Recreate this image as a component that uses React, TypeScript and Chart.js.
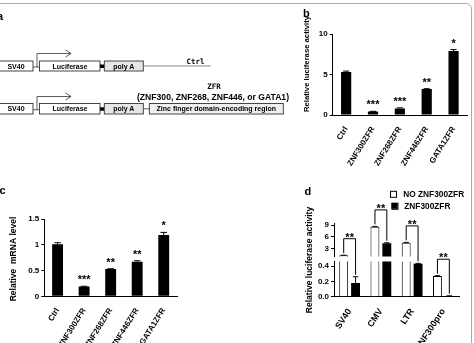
import React, { useEffect, useRef } from "react";
import { Chart, registerables } from "chart.js";

Chart.register(...registerables);

const FONT = "'Liberation Sans', Arial, Helvetica, sans-serif";

// ---------- panel b ----------
const B_CATEGORIES = ["Ctrl", "ZNF300ZFR", "ZNF268ZFR", "ZNF446ZFR", "GATA1ZFR"];
const B_VALUES = [5.3, 0.42, 0.8, 3.2, 7.9];
const B_ERRORS = [0.12, 0.03, 0.08, 0.05, 0.18];
const B_SIGNIF = ["", "***", "***", "**", "*"];
const B_TICKS = [0, 5, 10];

// ---------- panel c ----------
const C_CATEGORIES = ["Ctrl", "ZNF300ZFR", "ZNF268ZFR", "ZNF446ZFR", "GATA1ZFR"];
const C_VALUES = [1.01, 0.19, 0.53, 0.67, 1.19];
const C_ERRORS = [0.03, 0.005, 0.005, 0.02, 0.05];
const C_SIGNIF = ["", "***", "**", "**", "*"];
const C_TICKS = [0, 0.5, 1, 1.5];

// ---------- panel d ----------
const D_CATEGORIES = ["SV40", "CMV", "LTR", "ZNF300pro"];
const D_SERIES = ["NO ZNF300ZFR", "ZNF300ZFR"];
const D_NO_ZFR = [1.3, 8.6, 4.5, 0.27];
const D_NO_ZFR_ERR = [0.02, 0.1, 0.1, 0.004];
const D_ZFR = [0.18, 4.4, 0.43, 0.01];
const D_ZFR_ERR = [0.08, 0.1, 0.005, 0.002];
const D_SIGNIF = ["**", "**", "**", "**"];
const D_UPPER_TICKS = [3, 6, 9];
const D_LOWER_TICKS = [0, 0.2, 0.4];
const D_UPPER_RANGE = [1, 9.5];
const D_LOWER_RANGE = [0, 0.46];

// ---------- plugins ----------
const errorBarPlugin = {
  id: "errorBars",
  afterDatasetsDraw(chart: any) {
    const ctx = chart.ctx;
    chart.data.datasets.forEach((ds: any, i: number) => {
      if (!ds.errors) return;
      const meta = chart.getDatasetMeta(i);
      const ys = chart.scales[meta.yAxisID];
      meta.data.forEach((bar: any, j: number) => {
        const v = ds.data[j];
        const e = ds.errors[j];
        if (!e || v < ys.min || v > ys.max) return;
        const y0 = ys.getPixelForValue(v);
        const y1 = ys.getPixelForValue(v + e);
        const half = bar.width * 0.3;
        ctx.save();
        ctx.strokeStyle = "#000";
        ctx.lineWidth = 1;
        ctx.beginPath();
        ctx.moveTo(bar.x, y0);
        ctx.lineTo(bar.x, y1);
        ctx.moveTo(bar.x - half, y1);
        ctx.lineTo(bar.x + half, y1);
        ctx.stroke();
        ctx.restore();
      });
    });
  },
};

const signifPlugin = {
  id: "signif",
  afterDatasetsDraw(chart: any) {
    const ctx = chart.ctx;
    chart.data.datasets.forEach((ds: any, i: number) => {
      if (!ds.signif) return;
      const meta = chart.getDatasetMeta(i);
      const ys = chart.scales[meta.yAxisID];
      meta.data.forEach((bar: any, j: number) => {
        const s = ds.signif[j];
        if (!s) return;
        const top = ys.getPixelForValue(ds.data[j] + (ds.errors ? ds.errors[j] : 0));
        ctx.save();
        ctx.fillStyle = "#000";
        ctx.font = `bold 11px ${FONT}`;
        ctx.textAlign = "center";
        ctx.textBaseline = "alphabetic";
        ctx.fillText(s, bar.x, top - 3);
        ctx.restore();
      });
    });
  },
};

const yTitlePlugin = {
  id: "yTitle",
  afterDraw(chart: any, _args: any, opts: any) {
    if (!opts || !opts.text) return;
    const ctx = chart.ctx;
    ctx.save();
    ctx.translate(opts.x, opts.y);
    ctx.rotate(-Math.PI / 2);
    ctx.fillStyle = "#000";
    ctx.font = `bold ${opts.size}px ${FONT}`;
    ctx.textAlign = "center";
    ctx.textBaseline = "middle";
    ctx.fillText(opts.text, 0, 0);
    ctx.restore();
  },
};

const bracketPlugin = {
  id: "brackets",
  afterDraw(chart: any) {
    const ctx = chart.ctx;
    const up = chart.scales.yUp;
    const low = chart.scales.yLow;
    const px = (v: number) => (v > low.max ? up.getPixelForValue(v) : low.getPixelForValue(v));
    const mNo = chart.getDatasetMeta(2);
    const mZ = chart.getDatasetMeta(3);
    D_CATEGORIES.forEach((_c, j) => {
      const x1 = mNo.data[j].x;
      const x2 = mZ.data[j].x;
      const t1 = px(D_NO_ZFR[j] + D_NO_ZFR_ERR[j]);
      const t2 = px(D_ZFR[j] + D_ZFR_ERR[j]);
      const yH = Math.min(t1, t2) - 16.5;
      ctx.save();
      ctx.strokeStyle = "#000";
      ctx.lineWidth = 1;
      ctx.beginPath();
      ctx.moveTo(x1, t1 - 2);
      ctx.lineTo(x1, yH);
      ctx.lineTo(x2, yH);
      ctx.lineTo(x2, t2 - 2);
      ctx.stroke();
      ctx.fillStyle = "#000";
      ctx.font = `bold 11px ${FONT}`;
      ctx.textAlign = "center";
      ctx.textBaseline = "alphabetic";
      ctx.fillText(D_SIGNIF[j], (x1 + x2) / 2, yH + 2.3);
      ctx.restore();
    });
  },
};

const legendPlugin = {
  id: "dLegend",
  afterDraw(chart: any) {
    const ctx = chart.ctx;
    const a = chart.chartArea;
    const x0 = a.left + 56;
    const y0 = a.top - 32.5;
    [0, 1].forEach((i) => {
      const ds = chart.data.datasets[i];
      const bx = x0 + i * 1.5;
      const by = y0 + i * 12;
      ctx.save();
      ctx.fillStyle = ds.backgroundColor;
      ctx.fillRect(bx, by, 6, 6);
      ctx.strokeStyle = "#000";
      ctx.lineWidth = 1;
      ctx.strokeRect(bx + 0.5, by + 0.5, 6, 6);
      ctx.fillStyle = "#000";
      ctx.font = `bold 8.3px ${FONT}`;
      ctx.textAlign = "left";
      ctx.textBaseline = "middle";
      ctx.fillText(ds.label, x0 + 13.3 + i, by + 3.5);
      ctx.restore();
    });
  },
};

// ---------- helpers ----------
const fixedTicks = (values: number[]) => (scale: any) => {
  scale.ticks = values.map((v) => ({ value: v }));
};

function yAxis(width: number, ticks: number[], min: number, max: number, fmt?: (v: number) => string, extra: any = {}) {
  return {
    type: "linear",
    position: "left",
    min,
    max,
    afterBuildTicks: fixedTicks(ticks),
    afterFit: (s: any) => {
      s.width = width;
    },
    grid: { drawOnChartArea: false, drawTicks: true, tickLength: 3, color: "#000", lineWidth: 1 },
    border: { color: "#000", width: 1 },
    ticks: {
      padding: 2,
      color: "#000",
      font: { family: FONT, weight: "bold", size: 8 },
      callback: (v: any) => (fmt ? fmt(Number(v)) : String(v)),
    },
    ...extra,
  };
}

function xAxis(height: number, rotation: number, size: number) {
  return {
    type: "category",
    offset: true,
    afterFit: (s: any) => {
      s.height = height;
    },
    grid: { display: false },
    border: { color: "#000", width: 1 },
    ticks: {
      autoSkip: false,
      minRotation: rotation,
      maxRotation: rotation,
      padding: 2,
      color: "#000",
      font: { family: FONT, weight: "bold", size },
    },
  };
}

function simpleBarConfig(
  cats: string[],
  values: number[],
  errors: number[],
  signif: string[],
  ticks: number[],
  yWidth: number,
  xHeight: number,
  padding: any,
  barPct: number,
  title: any,
  fmt?: (v: number) => string
) {
  return {
    type: "bar",
    data: {
      labels: cats,
      datasets: [
        {
          data: values,
          errors,
          signif,
          backgroundColor: "#000",
          borderWidth: 0,
          categoryPercentage: 1,
          barPercentage: barPct,
        },
      ],
    },
    options: {
      responsive: false,
      animation: false,
      devicePixelRatio: 1,
      layout: { padding },
      plugins: { legend: { display: false }, tooltip: { enabled: false }, yTitle: title },
      scales: {
        x: xAxis(xHeight, 58, 8),
        y: yAxis(yWidth, ticks, ticks[0], ticks[ticks.length - 1], fmt),
      },
    },
    plugins: [errorBarPlugin, signifPlugin, yTitlePlugin],
  };
}

function dConfig() {
  const common = { categoryPercentage: 0.76, barPercentage: 0.75, clip: 0 };
  const white = { backgroundColor: "#fff", borderColor: "#000", borderWidth: 1 };
  const black = { backgroundColor: "#000", borderColor: "#000", borderWidth: 0 };
  const upH = (D_UPPER_RANGE[1] - D_UPPER_RANGE[0]) * 3.9;
  const lowH = (D_LOWER_RANGE[1] - D_LOWER_RANGE[0]) * 76.7;
  return {
    type: "bar",
    data: {
      labels: D_CATEGORIES,
      datasets: [
        { label: D_SERIES[0], data: D_NO_ZFR, errors: D_NO_ZFR_ERR, yAxisID: "yUp", stack: "no", ...white, ...common },
        { label: D_SERIES[1], data: D_ZFR, errors: D_ZFR_ERR, yAxisID: "yUp", stack: "zfr", ...black, ...common },
        { label: D_SERIES[0], data: D_NO_ZFR, errors: D_NO_ZFR_ERR, yAxisID: "yLow", stack: "no", ...white, ...common },
        { label: D_SERIES[1], data: D_ZFR, errors: D_ZFR_ERR, yAxisID: "yLow", stack: "zfr", ...black, ...common },
      ],
    },
    options: {
      responsive: false,
      animation: false,
      devicePixelRatio: 1,
      layout: { padding: { top: 43.3, right: 12, left: 0, bottom: 0 } },
      plugins: {
        legend: { display: false },
        tooltip: { enabled: false },
        yTitle: { text: "Relative luciferase activity", x: 70, y: 80, size: 8.5 },
      },
      scales: {
        x: xAxis(46.3, 57, 9),
        yLow: yAxis(94, D_LOWER_TICKS, D_LOWER_RANGE[0], D_LOWER_RANGE[1], (v) => v.toFixed(1), {
          stack: "d",
          stackWeight: lowH,
          stacked: false,
        }),
        yGap: {
          type: "linear",
          position: "left",
          stack: "d",
          stackWeight: 5,
          min: 0,
          max: 1,
          afterFit: (s: any) => {
            s.width = 94;
          },
          grid: { display: false },
          border: { display: false },
          ticks: { display: false },
        },
        yUp: yAxis(94, D_UPPER_TICKS, D_UPPER_RANGE[0], D_UPPER_RANGE[1], undefined, {
          stack: "d",
          stackWeight: upH,
          stacked: false,
        }),
      },
    },
    plugins: [errorBarPlugin, bracketPlugin, legendPlugin, yTitlePlugin],
  };
}

function ChartCanvas(props: { left: number; top: number; width: number; height: number; make: () => any }) {
  const ref = useRef<HTMLCanvasElement>(null);
  useEffect(() => {
    const chart = new Chart(ref.current as HTMLCanvasElement, props.make());
    return () => chart.destroy();
  }, []);
  return (
    <canvas
      ref={ref}
      width={props.width}
      height={props.height}
      style={{ position: "absolute", left: props.left, top: props.top, width: props.width, height: props.height }}
    />
  );
}

function Construct(props: { y: number; h: number; arrowTop: number; zfr: boolean }) {
  const { y, h, arrowTop, zfr } = props;
  const mid = y + h / 2;
  const stroke = "#333";
  const txt = { fontFamily: FONT, fontWeight: 700, fontSize: 7, textAnchor: "middle" as const, dominantBaseline: "central" as const };
  return (
    <g>
      <rect x={-2} y={y} width={35} height={h} fill="#fff" stroke={stroke} strokeWidth={0.9} />
      <text x={16} y={mid} {...txt}>SV40</text>
      <line x1={33} y1={mid + 1} x2={39.5} y2={mid + 1} stroke={stroke} strokeWidth={0.8} />
      <polyline points={`37,${mid + 1} 37,${arrowTop} 71,${arrowTop}`} fill="none" stroke={stroke} strokeWidth={0.8} />
      <polyline points={`65.5,${arrowTop - 3.5} 71,${arrowTop} 65.5,${arrowTop + 3.5}`} fill="none" stroke={stroke} strokeWidth={0.8} />
      <rect x={39.5} y={y} width={60.5} height={h} fill="#fff" stroke={stroke} strokeWidth={0.9} />
      <text x={70} y={mid} {...txt}>Luciferase</text>
      <rect x={100} y={mid - 1.5} width={4.3} height={3.5} fill="#000" />
      <rect x={104.3} y={y} width={39} height={h} fill="#e6e6e6" stroke={stroke} strokeWidth={0.9} />
      <text x={123.8} y={mid} {...txt}>poly A</text>
      {zfr ? (
        <g>
          <line x1={143.3} y1={mid} x2={149.3} y2={mid} stroke={stroke} strokeWidth={0.8} />
          <rect x={149.3} y={y} width={134} height={h} fill="#efefef" stroke={stroke} strokeWidth={0.9} />
          <text x={216.3} y={mid} {...txt}>Zinc finger domain-encoding region</text>
        </g>
      ) : (
        <line x1={143.3} y1={mid} x2={210.7} y2={mid} stroke="#777" strokeWidth={0.9} />
      )}
    </g>
  );
}

function Overlay() {
  const letter = { fontFamily: FONT, fontWeight: 700, fontSize: 11 };
  return (
    <svg width={474} height={343} style={{ position: "absolute", left: 0, top: 0, pointerEvents: "none" }}>
      <text x={-3} y={20} {...letter}>a</text>
      <text x={303} y={17} {...letter}>b</text>
      <text x={-0.5} y={194} {...letter}>c</text>
      <text x={304.5} y={194.5} {...letter}>d</text>
      <Construct y={61} h={10} arrowTop={53.5} zfr={false} />
      <text x={186.5} y={64} fontFamily="'DejaVu Sans Mono', monospace" fontWeight={700} fontSize={7.5}>
        Ctrl
      </text>
      <text x={214} y={88.5} textAnchor="middle" fontFamily="'DejaVu Sans Mono', monospace" fontWeight={700} fontSize={7.5}>
        ZFR
      </text>
      <Construct y={103.5} h={10.5} arrowTop={96.5} zfr={true} />
      <text x={137} y={99.5} fontFamily={FONT} fontWeight={700} fontSize={8.6}>
        (ZNF300, ZNF268, ZNF446, or GATA1)
      </text>
    </svg>
  );
}

export default function App() {
  return (
    <div style={{ position: "fixed", left: 0, top: 0, width: 474, height: 343, background: "#fff", overflow: "hidden" }}>
      <div
        style={{
          position: "absolute",
          left: -10,
          top: 3,
          width: 482,
          height: 400,
          boxSizing: "border-box",
          border: "1px solid #aaa",
          borderRadius: 6,
        }}
      />
      <ChartCanvas
        left={300}
        top={5}
        width={171}
        height={165}
        make={() =>
          simpleBarConfig(
            B_CATEGORIES,
            B_VALUES,
            B_ERRORS,
            B_SIGNIF,
            B_TICKS,
            32.7,
            55,
            { top: 29, right: 4, left: 0, bottom: 0 },
            0.38,
            { text: "Relative luciferase activity", x: 7, y: 59, size: 7.7 }
          )
        }
      />
      <ChartCanvas
        left={0}
        top={180}
        width={240}
        height={163}
        make={() =>
          simpleBarConfig(
            C_CATEGORIES,
            C_VALUES,
            C_ERRORS,
            C_SIGNIF,
            C_TICKS,
            44.3,
            46.7,
            { top: 39, right: 63, left: 0, bottom: 0 },
            0.41,
            { text: "Relative  mRNA level", x: 13.7, y: 79, size: 8.5 }
          )
        }
      />
      <ChartCanvas left={240} top={180} width={231} height={163} make={dConfig} />
      <Overlay />
    </div>
  );
}
